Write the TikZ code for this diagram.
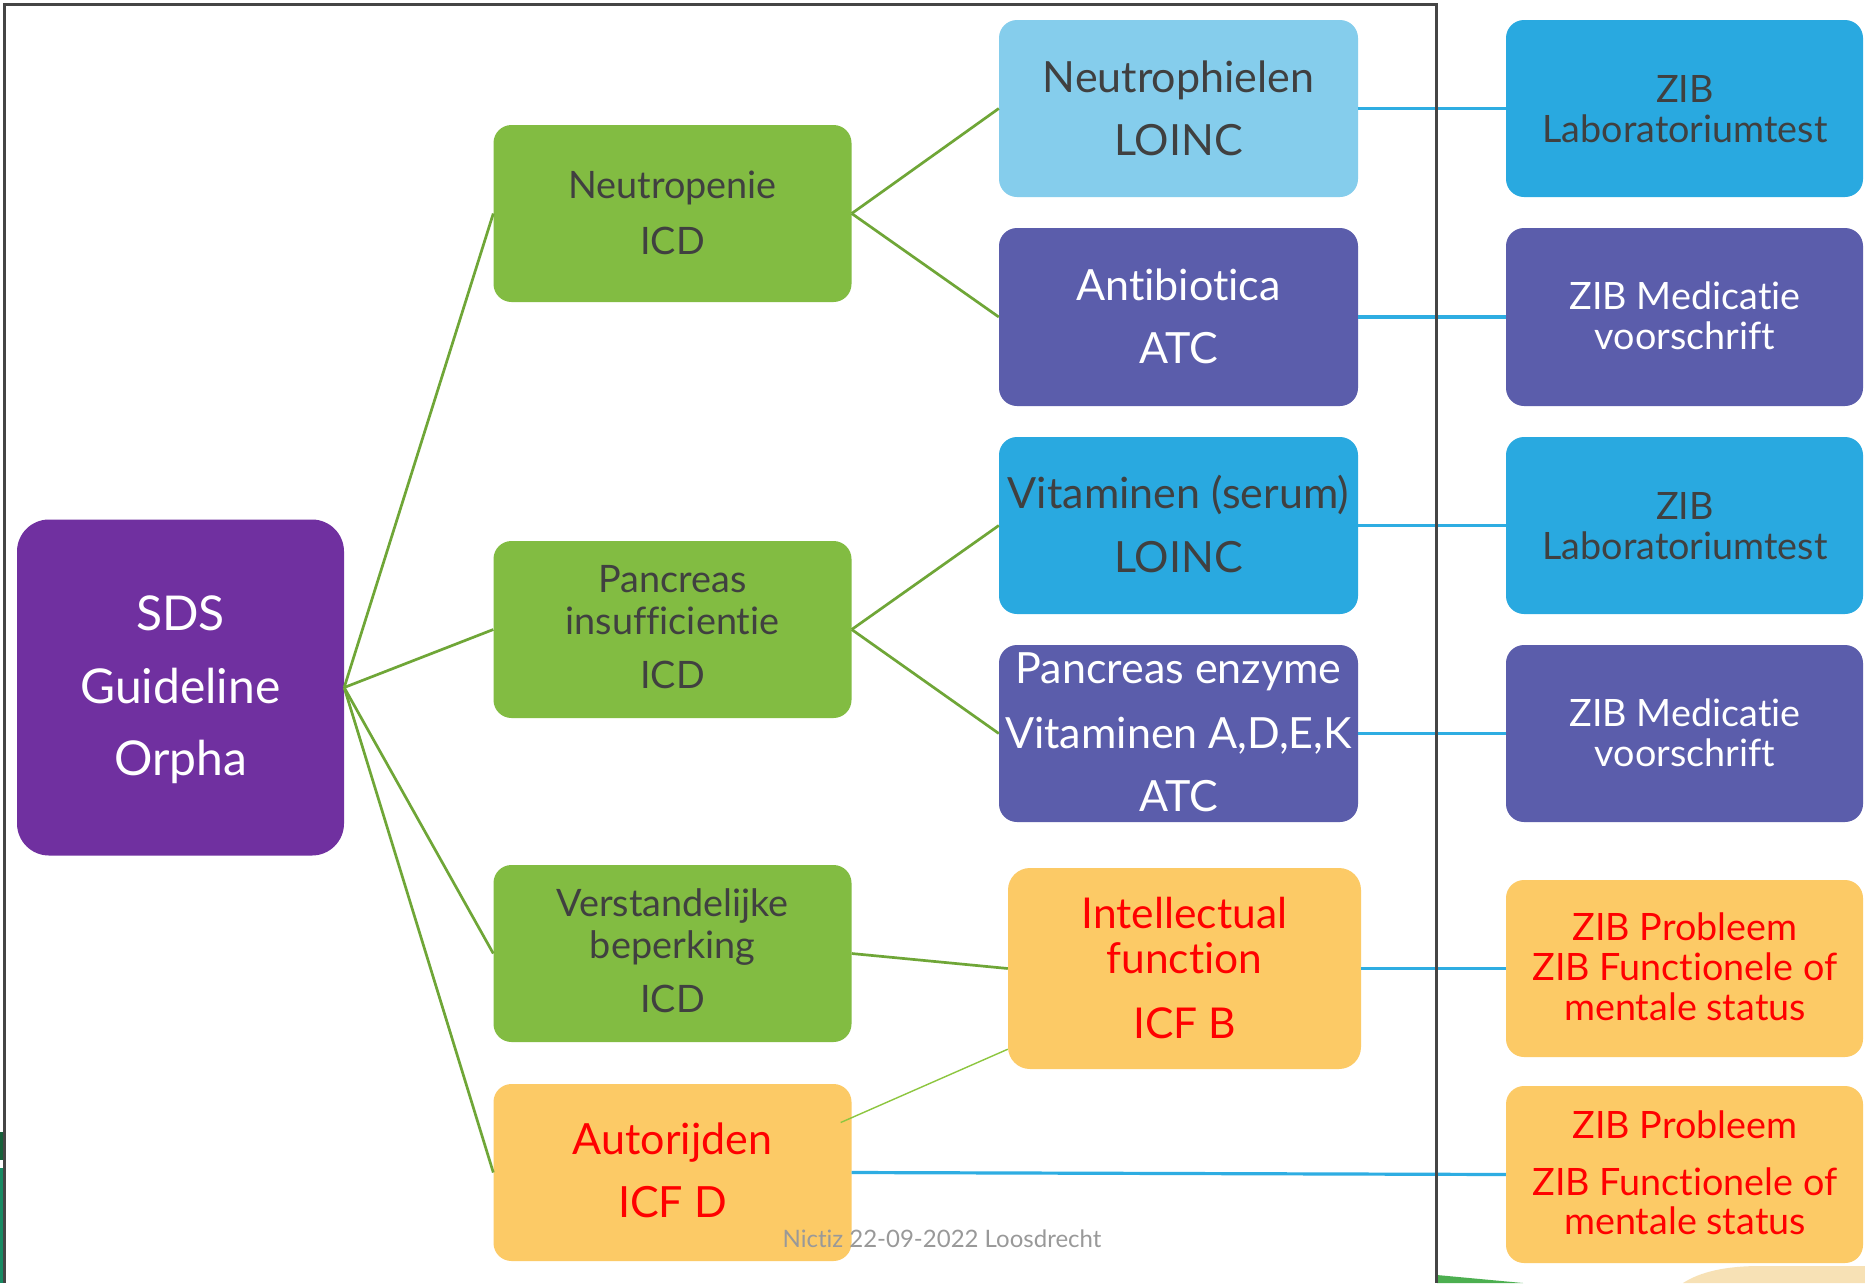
\documentclass[tikz,border=0pt]{standalone}
\usepackage{fontspec}
\setmainfont{Lato}[Ligatures={NoCommon}]
\usetikzlibrary{calc}
\definecolor{sdspurple}{HTML}{7030A0}
\definecolor{nodegreen}{HTML}{82BC42}
\definecolor{lightblue}{HTML}{85CDEC}
\definecolor{zibblue}{HTML}{29A9E0}
\definecolor{medpurple}{HTML}{5B5DAB}
\definecolor{ochre}{HTML}{FCCA66}
\definecolor{textgray}{HTML}{404040}
\definecolor{linegreen}{HTML}{6FA637}
\definecolor{thingreen}{HTML}{8DC63F}
\definecolor{lineblue}{HTML}{2EADE2}
\definecolor{framegray}{HTML}{454545}
\definecolor{footgray}{HTML}{999999}
\definecolor{bgdark}{HTML}{17603A}
\definecolor{bgteal}{HTML}{188A62}
\definecolor{bggreen}{HTML}{4CAF50}
\definecolor{bgbeige}{HTML}{F7E1B5}
\newcommand\fSds{\fontsize{48}{52}\selectfont}
\newcommand\fIntl{\fontsize{42.5}{48}\selectfont}
\newcommand\fGreen{\fontsize{37.8}{42}\selectfont}
\newcommand\fMid{\fontsize{43}{48}\selectfont}
\newcommand\fZib{\fontsize{37.7}{42}\selectfont}
\newcommand\fFoot{\fontsize{24}{28}\selectfont}
\begin{document}
\begin{tikzpicture}[x=1pt,y=-1pt,
  box/.style={draw=none, rounded corners=18pt, inner sep=0pt},
  txt/.style={anchor=base, inner sep=0pt, align=center},
  gline/.style={draw=linegreen, line width=2.7pt},
  bline/.style={draw=lineblue, line width=3.2pt}]
\useasboundingbox (0,0) rectangle (1865,1283);
\fill[white] (0,0) rectangle (1865,1283);
% background pieces of the slide
\fill[bgdark] (0,1132) rectangle (4,1160);
\fill[bgteal] (0,1168) rectangle (4,1283);
\fill[bggreen] (1437,1275) -- (1523,1283) -- (1437,1283) -- cycle;
\fill[bgbeige] (1683,1283) .. controls (1700,1272) and (1725,1266) .. (1760,1266) -- (1865,1266) -- (1865,1283) -- cycle;

% boxes
\node[box, fill=sdspurple, rounded corners=32pt, minimum width=327pt, minimum height=336pt] (sds) at (180.5,687.5) {};
\node[box, fill=nodegreen, minimum width=358pt, minimum height=177pt] (neu) at (672.5,213.5) {};
\node[box, fill=nodegreen, minimum width=358pt, minimum height=177pt] (pan) at (672.5,629.5) {};
\node[box, fill=nodegreen, minimum width=358pt, minimum height=177pt] (ver) at (672.5,953.5) {};
\node[box, fill=ochre, minimum width=358pt, minimum height=177pt] (aut) at (672.5,1172.5) {};

\node[box, fill=lightblue, minimum width=359pt, minimum height=177pt] (nph) at (1178.5,108.5) {};
\node[box, fill=medpurple, minimum width=359pt, minimum height=178pt] (abt) at (1178.5,317) {};
\node[box, fill=zibblue, minimum width=359pt, minimum height=177pt] (vit) at (1178.5,525.5) {};
\node[box, fill=medpurple, minimum width=359pt, minimum height=177pt] (enz) at (1178.5,733.5) {};
\node[box, fill=ochre, rounded corners=22pt, minimum width=353pt, minimum height=201pt] (int) at (1184.5,968.5) {};

\node[box, fill=zibblue, minimum width=357pt, minimum height=177pt] (zl1) at (1684.5,108.5) {};
\node[box, fill=medpurple, minimum width=357pt, minimum height=178pt] (zm1) at (1684.5,317) {};
\node[box, fill=zibblue, minimum width=357pt, minimum height=177pt] (zl2) at (1684.5,525.5) {};
\node[box, fill=medpurple, minimum width=357pt, minimum height=177pt] (zm2) at (1684.5,733.5) {};
\node[box, fill=ochre, minimum width=357pt, minimum height=177pt] (zp1) at (1684.5,968.5) {};
\node[box, fill=ochre, minimum width=357pt, minimum height=177pt] (zp2) at (1684.5,1174.5) {};

% connectors
\draw[gline] (sds.east) -- (neu.west);
\draw[gline] (sds.east) -- (pan.west);
\draw[gline] (sds.east) -- (ver.west);
\draw[gline] (sds.east) -- (aut.west);
\draw[gline] (neu.east) -- (nph.west);
\draw[gline] (neu.east) -- (abt.west);
\draw[gline] (pan.east) -- (vit.west);
\draw[gline] (pan.east) -- (enz.west);
\draw[gline] (ver.east) -- (int.west);
\coordinate (autp) at ($(aut.east)+(-11,-50)$);
\coordinate (intp) at ($(int.south west)+(0,-20)$);
\draw[draw=thingreen, line width=1.4pt] (autp) -- (intp);
\draw[bline] (nph.east) -- (zl1.west);
\draw[bline] (abt.east) -- (zm1.west);
\draw[bline] (vit.east) -- (zl2.west);
\draw[bline] (enz.east) -- (zm2.west);
\draw[bline] (int.east) -- (zp1.west);
\draw[bline] (aut.east) -- (zp2.west);

% frame
\draw[draw=framegray, line width=3pt] (4,1283) -- (4,4) -- (1436,4) -- (1436,1283);

% texts
\node[txt, text=white, font=\fSds] (sdsa) at (180.5,630) {SDS};
\node[txt, text=white, font=\fSds] (sdsb) at (180.5,703) {Guideline};
\node[txt, text=white, font=\fSds] (sdsc) at (180.5,775) {Orpha};

\node[txt, text=textgray, font=\fGreen] (neua) at (672.5,198) {Neutropenie};
\node[txt, text=textgray, font=\fGreen] (neub) at (672.5,254) {ICD};
\node[txt, text=textgray, font=\fGreen] (pana) at (672.5,592) {Pancreas};
\node[txt, text=textgray, font=\fGreen] (panb) at (672.5,634) {insufficientie};
\node[txt, text=textgray, font=\fGreen] (panc) at (672.5,688) {ICD};
\node[txt, text=textgray, font=\fGreen] (vera) at (672.5,916) {Verstandelijke};
\node[txt, text=textgray, font=\fGreen] (verb) at (672.5,958) {beperking};
\node[txt, text=textgray, font=\fGreen] (verc) at (672.5,1012) {ICD};
\node[txt, text=red, font=\fMid] (auta) at (672.5,1154) {Autorijden};
\node[txt, text=red, font=\fMid] (autb) at (672.5,1217) {ICF D};

\node[txt, text=textgray, font=\fMid] (npha) at (1178.5,92) {Neutrophielen};
\node[txt, text=textgray, font=\fMid] (nphb) at (1178.5,155) {LOINC};
\node[txt, text=white, font=\fMid] (abta) at (1178.5,300) {Antibiotica};
\node[txt, text=white, font=\fMid] (abtb) at (1178.5,363) {ATC};
\node[txt, text=textgray, font=\fMid] (vita) at (1178.5,508) {Vitaminen (serum)};
\node[txt, text=textgray, font=\fMid] (vitb) at (1178.5,572) {LOINC};
\node[txt, text=white, font=\fMid] (enza) at (1178.5,683) {Pancreas enzyme};
\node[txt, text=white, font=\fMid] (enzb) at (1178.5,748) {Vitaminen A,D,E,K};
\node[txt, text=white, font=\fMid] (enzc) at (1178.5,811) {ATC};
\node[txt, text=red, font=\fIntl] (inta) at (1184.5,928) {Intellectual};
\node[txt, text=red, font=\fIntl] (intb) at (1184.5,973) {function};
\node[txt, text=red, font=\fIntl] (intc) at (1184.5,1038) {ICF B};

\node[txt, text=textgray, font=\fZib] (zl1a) at (1685,102) {ZIB};
\node[txt, text=textgray, font=\fZib] (zl1b) at (1685,142) {Laboratoriumtest};
\node[txt, text=white, font=\fZib] (zm1a) at (1685,309) {ZIB Medicatie};
\node[txt, text=white, font=\fZib] (zm1b) at (1685,349) {voorschrift};
\node[txt, text=textgray, font=\fZib] (zl2a) at (1685,519) {ZIB};
\node[txt, text=textgray, font=\fZib] (zl2b) at (1685,559) {Laboratoriumtest};
\node[txt, text=white, font=\fZib] (zm2a) at (1685,726) {ZIB Medicatie};
\node[txt, text=white, font=\fZib] (zm2b) at (1685,766) {voorschrift};
\node[txt, text=red, font=\fZib] (zp1a) at (1685,940) {ZIB Probleem};
\node[txt, text=red, font=\fZib] (zp1b) at (1685,980) {ZIB Functionele of};
\node[txt, text=red, font=\fZib] (zp1c) at (1685,1020) {mentale status};
\node[txt, text=red, font=\fZib] (zp2a) at (1685,1138) {ZIB Probleem};
\node[txt, text=red, font=\fZib] (zp2b) at (1685,1195) {ZIB Functionele of};
\node[txt, text=red, font=\fZib] (zp2c) at (1685,1234) {mentale status};

\node[txt, text=footgray, font=\fFoot] (foot) at (942,1247) {Nictiz 22-09-2022 Loosdrecht};
\end{tikzpicture}
\end{document}
